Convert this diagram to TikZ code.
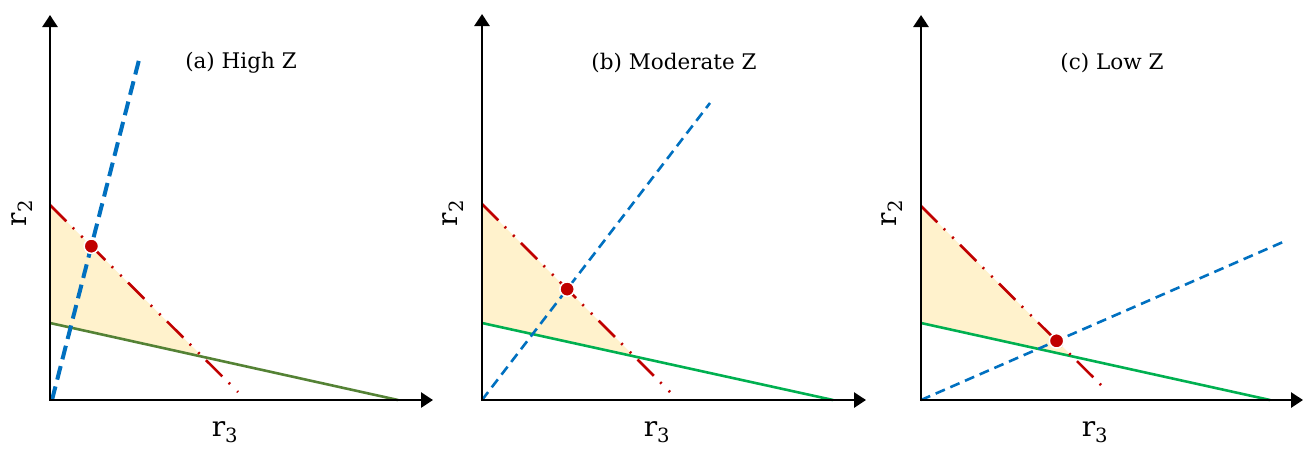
\documentclass[tikz,border=0pt]{standalone}
\usepackage{fontspec}
\setmainfont{DejaVu Serif}
\usepackage{xcolor}
\usetikzlibrary{arrows.meta}
\definecolor{limred}{HTML}{C00000}
\definecolor{rayblue}{HTML}{0070C0}
\definecolor{olivegreen}{HTML}{548235}
\definecolor{brightgreen}{HTML}{00B050}
\definecolor{feasyellow}{HTML}{FFF2CC}

\tikzset{
  axis/.style={line width=2.8pt, {Triangle[length=12pt,width=15pt]}-{Triangle[length=12pt,width=15pt]}},
  feasible/.style={fill=feasyellow},
  redline/.style={draw=limred, line width=2.6pt, dash pattern=on 23pt off 9pt on 2pt off 10pt on 2pt off 9pt},
  greenline/.style={draw=brightgreen, line width=2.6pt},
  blueline/.style={draw=rayblue, line width=2.6pt, dash pattern=on 10pt off 6pt},
  optdot/.style={fill=limred, draw=white, line width=1.5pt},
  paneltitle/.style={font=\fontsize{21.5}{25}\selectfont},
  axlabel/.style={font=\fontsize{28}{30}\selectfont, inner sep=0pt}
}

\begin{document}
\begin{tikzpicture}[x=1pt,y=-1pt]
\useasboundingbox (0,0) rectangle (1307,448);

% (a) high Z
\begin{scope}[shift={(50,0)}]
\coordinate (a-ytip) at (0,15);
\coordinate (a-xtip) at (383,400);
\coordinate (a-r0) at (0,205); \coordinate (a-r1) at (188,392);
\coordinate (a-g0) at (0,323); \coordinate (a-g1) at (348,400);
\coordinate (a-b0) at (2,400); \coordinate (a-b1) at (90,56);
\fill[feasible] (a-r0) -- (a-g0) -- (intersection of a-r0--a-r1 and a-g0--a-g1) -- cycle;
\draw[greenline, draw=olivegreen] (a-g0) -- (a-g1);
\draw[redline] (a-r0) -- (a-r1);
\draw[blueline, line width=4pt, dash pattern=on 14pt off 7pt] (a-b0) -- (a-b1);
\draw[axis] (a-ytip) |- (a-xtip);
\path[optdot] (intersection of a-r0--a-r1 and a-b0--a-b1) circle[radius=7.2pt];
\node[paneltitle] (a-title) at (191,63) {(a) High Z};
\node[axlabel, rotate=90] (a-r2) at (-28,213) {r\textsubscript{2}};
\node[axlabel] (a-r3) at (175,432) {r\textsubscript{3}};
\end{scope}

% (b) moderate Z
\begin{scope}[shift={(482,0)}]
\coordinate (b-ytip) at (0,14);
\coordinate (b-xtip) at (384,400);
\coordinate (b-r0) at (0,204); \coordinate (b-r1) at (188,392);
\coordinate (b-g0) at (0,323); \coordinate (b-g1) at (351,400);
\coordinate (b-b0) at (0,400); \coordinate (b-b1) at (228,103);
\fill[feasible] (b-r0) -- (b-g0) -- (intersection of b-r0--b-r1 and b-g0--b-g1) -- cycle;
\draw[greenline] (b-g0) -- (b-g1);
\draw[redline] (b-r0) -- (b-r1);
\draw[blueline] (b-b0) -- (b-b1);
\draw[axis] (b-ytip) |- (b-xtip);
\path[optdot] (intersection of b-r0--b-r1 and b-b0--b-b1) circle[radius=7.2pt];
\node[paneltitle] (b-title) at (192,63) {(b) Moderate Z};
\node[axlabel, rotate=90] (b-r2) at (-29,213) {r\textsubscript{2}};
\node[axlabel] (b-r3) at (175,432) {r\textsubscript{3}};
\end{scope}

% (c) low Z
\begin{scope}[shift={(921,0)}]
\coordinate (c-ytip) at (0,15);
\coordinate (c-xtip) at (382,400);
\coordinate (c-r0) at (0,206); \coordinate (c-r1) at (187,392);
\coordinate (c-g0) at (0,323); \coordinate (c-g1) at (349,400);
\coordinate (c-b0) at (0,400); \coordinate (c-b1) at (362,242);
\fill[feasible] (c-r0) -- (c-g0) -- (intersection of c-r0--c-r1 and c-g0--c-g1) -- cycle;
\draw[greenline] (c-g0) -- (c-g1);
\draw[redline] (c-r0) -- (c-r1);
\draw[blueline] (c-b0) -- (c-b1);
\draw[axis] (c-ytip) |- (c-xtip);
\path[optdot] (intersection of c-r0--c-r1 and c-b0--c-b1) circle[radius=7.2pt];
\node[paneltitle] (c-title) at (191,63) {(c) Low Z};
\node[axlabel, rotate=90] (c-r2) at (-29,213) {r\textsubscript{2}};
\node[axlabel] (c-r3) at (174,432) {r\textsubscript{3}};
\end{scope}
\end{tikzpicture}
\end{document}
